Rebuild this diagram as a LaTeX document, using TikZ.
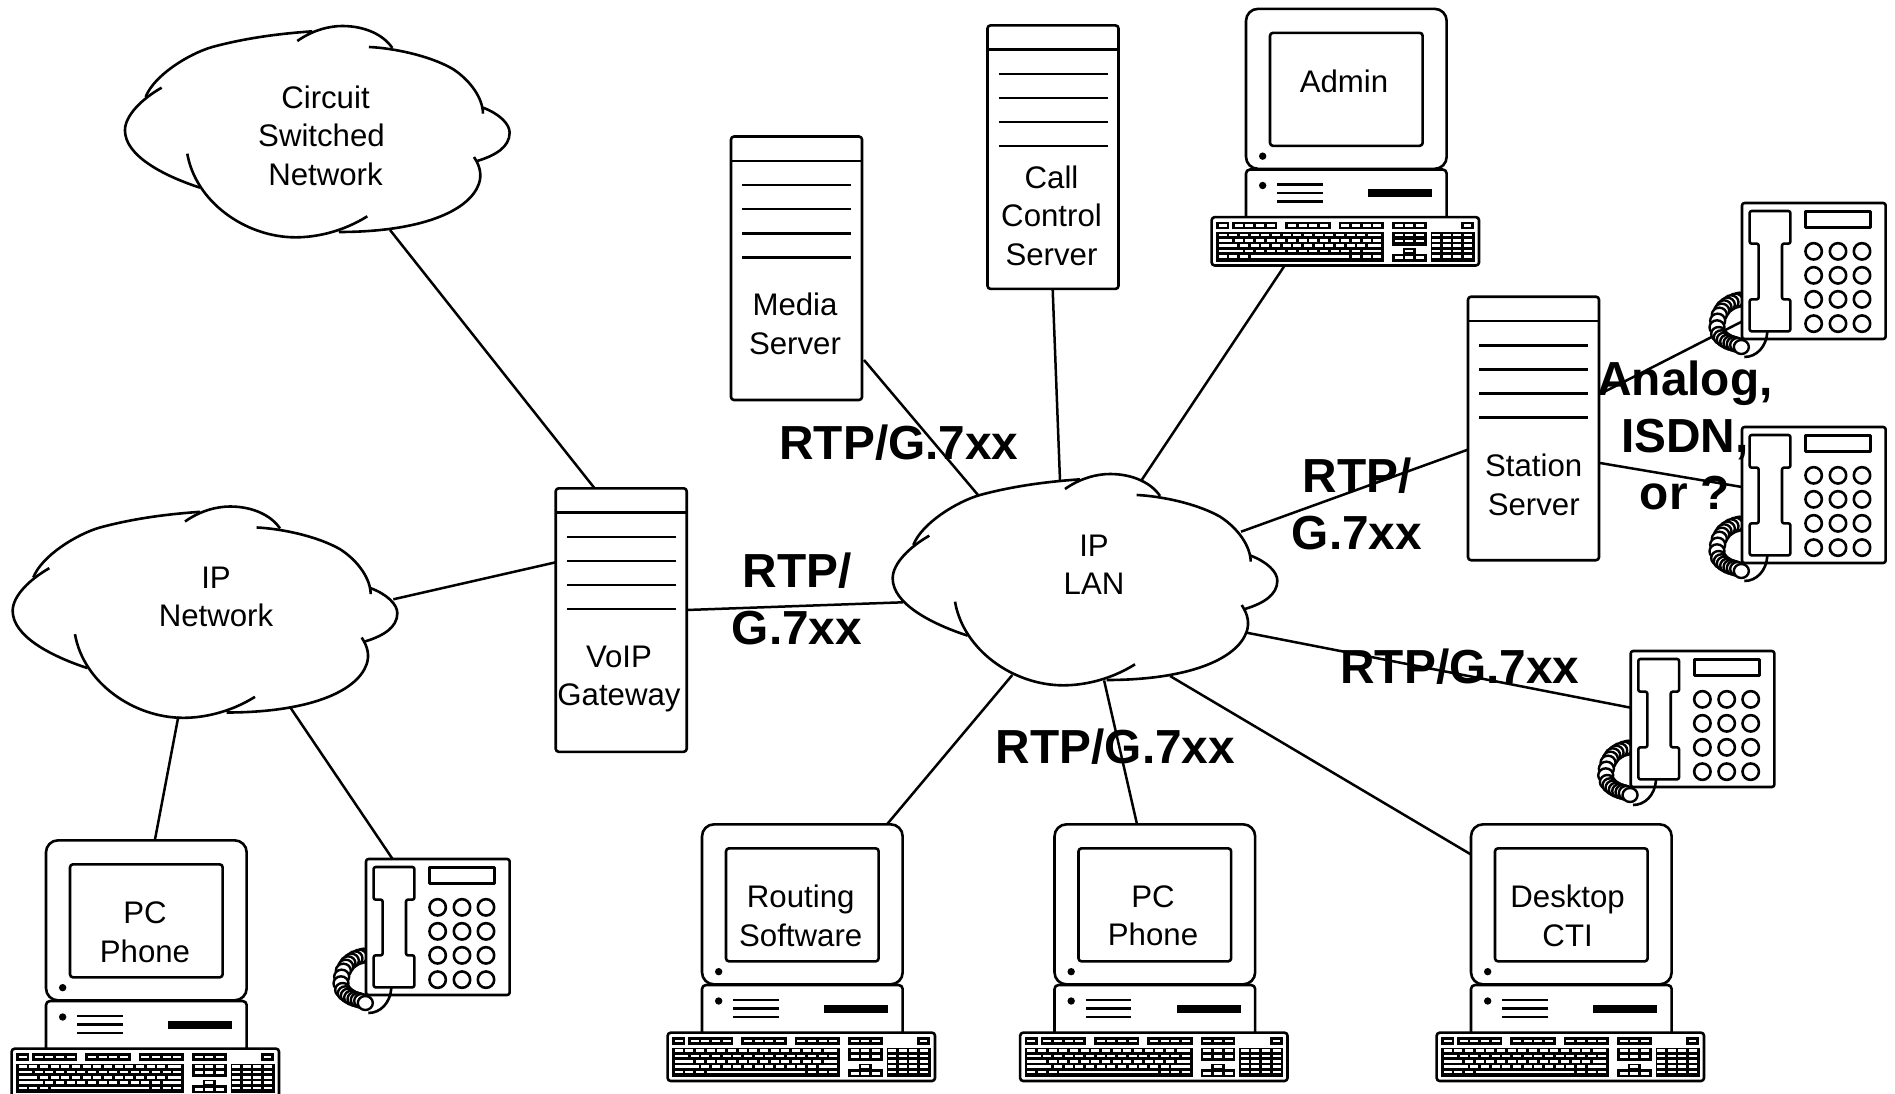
\documentclass[tikz,border=0pt]{standalone}
\usepackage{fontspec}
\setmainfont{Liberation Sans}
\tikzset{
  every picture/.style={x=1pt,y=-1pt},
  shape line/.style={line width=2.6pt,draw=black,fill=white,line join=round},
  bare line/.style={line width=2.6pt,draw=black,line join=round},
  link/.style={line width=2.5pt,draw=black},
  devlabel/.style={font=\fontsize{31.2}{38.5}\selectfont,align=center,inner sep=0pt,text=black},
  protolabel/.style={font=\bfseries\fontsize{47.8}{57}\selectfont,align=center,inner sep=0pt,text=black},
  zoomed/.style={x=0.33333pt,y=-0.33333pt}
}
% cloud: origin is the top-left of the 3x grid
\newcommand{\mycloud}[2]{%
\begin{scope}[shift={(#1,#2)},zoomed]
  \fill[white] (100,255)--(300,103)--(600,58)--(690,42)--(840,108)--(1020,170)--(1112,290)--(1192,362)--(1095,447)--(1100,515)--(870,645)--(680,660)--(550,676)--(263,527)--(38,355)--cycle;
  \draw[bare line,line cap=butt] (100,255) .. controls (125,190) and (230,125) .. (300,105) .. controls (400,78) and (500,65) .. (600,58);
  \draw[bare line] (555,87) .. controls (600,55) and (650,42) .. (690,42) .. controls (760,42) and (815,70) .. (840,108);
  \draw[bare line] (770,105) .. controls (840,108) and (950,130) .. (1020,170) .. controls (1075,205) and (1112,260) .. (1112,305);
  \draw[bare line] (1112,287) .. controls (1160,305) and (1192,335) .. (1192,362) .. controls (1192,405) and (1150,430) .. (1095,447);
  \draw[bare line] (1085,435) .. controls (1105,465) and (1108,490) .. (1100,515) .. controls (1070,600) and (920,660) .. (680,660);
  \draw[bare line] (765,613) .. controls (690,660) and (610,676) .. (550,676) .. controls (400,676) and (250,570) .. (225,425);
  \draw[bare line] (263,527) .. controls (150,490) and (38,430) .. (38,355) .. controls (38,310) and (90,260) .. (148,227);
\end{scope}}
% server: origin is the top-left corner
\newcommand{\myserver}[2]{%
\begin{scope}[shift={(#1,#2)}]
  \draw[shape line,rounded corners=3pt] (0,0) rectangle (131,263.5);
  \draw[bare line] (0,24.4) -- (131,24.4);
  \foreach \yy in {48.7,72.7,96.7,120.7} \draw[bare line] (11,\yy) -- (120,\yy);
\end{scope}}
% keyboard key helpers (3x grid)
\newcommand{\kslot}[3]{\fill[white] (#1,#3-4) rectangle (#2,#3+4);}
% computer: origin = 3x grid corner
\newcommand{\mycomputer}[2]{%
\begin{scope}[shift={(#1,#2)},zoomed]
  \draw[shape line,rounded corners=4pt] (138,680) -- (138,507) -- (740,507) -- (740,680);
  \draw[shape line,rounded corners=12pt] (138,25) rectangle (740,505);
  \draw[bare line,rounded corners=3pt] (210,97) rectangle (668,436);
  \fill (188,467) circle[radius=3.7pt];
  \fill (188,555) circle[radius=3.7pt];
  \foreach \yy in {552,578,603} \draw[bare line] (232,\yy) -- (368,\yy);
  \fill (504,567) rectangle (696,591);
  \draw[shape line,rounded corners=3pt] (35,650) rectangle (837,795);
  % black groups
  \fill (48,664) rectangle (87,686);
  \foreach \aa/\bb in {96/232,256/392,416/552,576/680,784/822} \fill (\aa,664) rectangle (\bb,686);
  \fill (48,696) rectangle (552,784);
  \fill (576,696) rectangle (680,736);
  \fill (608,744) rectangle (648,760);
  \fill (576,760) rectangle (680,784);
  \fill (692,696) rectangle (824,784);
  % function row
  \kslot{56}{80}{675}
  \foreach \aa in {104,136,168,200,264,296,328,360,424,456,488,520,584,616,648} {\pgfmathsetmacro\bb{\aa+24}\kslot{\aa}{\bb}{675}}
  \kslot{792}{814}{675}
  % main rows
  \foreach \aa in {56,88,...,472} {\pgfmathsetmacro\bb{\aa+24}\kslot{\aa}{\bb}{704}}
  \kslot{504}{544}{704}
  \kslot{56}{96}{720}
  \foreach \aa in {104,136,...,488} {\pgfmathsetmacro\bb{\aa+24}\kslot{\aa}{\bb}{720}}
  \kslot{520}{544}{720}
  \kslot{56}{112}{736}
  \foreach \aa in {120,152,...,472} {\pgfmathsetmacro\bb{\aa+24}\kslot{\aa}{\bb}{736}}
  \kslot{504}{544}{736}
  \kslot{56}{128}{752}
  \foreach \aa in {136,168,...,456} {\pgfmathsetmacro\bb{\aa+24}\kslot{\aa}{\bb}{752}}
  \kslot{488}{544}{752}
  \foreach \aa in {56,88,120,456,488,520} {\pgfmathsetmacro\bb{\aa+24}\kslot{\aa}{\bb}{768}}
  \kslot{152}{448}{768}
  % navigation block
  \foreach \aa in {584,616,648} {\pgfmathsetmacro\bb{\aa+24}\kslot{\aa}{\bb}{704}\kslot{\aa}{\bb}{722}\kslot{\aa}{\bb}{772}}
  \kslot{616}{640}{752}
  % numeric block
  \foreach \aa in {696,728,760,792} \foreach \cc in {704,720,736,752,768} {\pgfmathsetmacro\bb{\aa+24}\kslot{\aa}{\bb}{\cc}}
\end{scope}}
% phone: origin = top-left corner of its body
\newcommand{\myphone}[2]{%
\begin{scope}[shift={(#1-30.67,#2-11)},zoomed]
  \foreach \xx/\yy in {84/323,72/326,59/331,48/338,38/346,31/356,24/368,19/386,17/406,22/426,30/436,39/443,49/449,59/453,69/456,79/459,90/465}
    \draw[line width=2.4pt,fill=white] (\xx,\yy) ellipse[x radius=7.5pt,y radius=7pt];
  \draw[shape line,rounded corners=2.5pt] (92,33) rectangle (523,441);
  \draw[bare line] (168,420) .. controls (165,465) and (135,495) .. (99,495);
  \draw[bare line,rounded corners=2pt] (115,57) -- (237,57) -- (237,155) -- (212,155) -- (212,322) -- (237,322) -- (237,418) -- (115,418) -- (115,322) -- (142,322) -- (142,155) -- (115,155) -- cycle;
  \draw[bare line] (283,59) rectangle (478,107);
  \foreach \xx in {307,380,452} \foreach \yy in {178,250,322,395} \draw[bare line] (\xx,\yy) circle[radius=8.2pt];
\end{scope}}
\begin{document}
\begin{tikzpicture}
\clip (0,0) rectangle (1895,1094);
\fill[white] (0,0) rectangle (1895,1094);
% connector ends
\coordinate (circuitOut) at (390,230);
\coordinate (gwTop) at (594.6,488.3);
\coordinate (ipOutE) at (393.3,599.3);
\coordinate (gwW) at (555.7,562.3);
\coordinate (gwE) at (686.7,610);
\coordinate (lanW) at (903,602.3);
\coordinate (mediaS) at (864,360);
\coordinate (lanNW) at (978,495);
\coordinate (callS) at (1052.7,290);
\coordinate (lanN) at (1060,480.7);
\coordinate (adminS) at (1285,265);
\coordinate (lanNE) at (1141.7,480);
\coordinate (stationW) at (1468,449.6);
\coordinate (lanE) at (1241,531.7);
\coordinate (stationNE) at (1600,394);
\coordinate (phoneAW) at (1742,321.5);
\coordinate (stationSE) at (1600,463);
\coordinate (phoneBW) at (1742,487);
\coordinate (lanSE) at (1246.7,632.7);
\coordinate (phoneCW) at (1630.7,707.7);
\coordinate (lanSSE) at (1170,676);
\coordinate (ctiN) at (1471,854.5);
\coordinate (lanS) at (1104,680);
\coordinate (pcbN) at (1137.3,825.5);
\coordinate (lanSW) at (1012.3,675);
\coordinate (routingN) at (886,825.5);
\coordinate (ipS) at (178.3,716.7);
\coordinate (pcaN) at (154.7,841);
\coordinate (ipSE) at (290,707);
\coordinate (phoneDN) at (392.8,859.3);
% connectors
\draw[link] (circuitOut) -- (gwTop);
\draw[link] (ipOutE) -- (gwW);
\draw[link] (gwE) -- (lanW);
\draw[link] (mediaS) -- (lanNW);
\draw[link] (callS) -- (lanN);
\draw[link] (adminS) -- (lanNE);
\draw[link] (stationW) -- (lanE);
\draw[link] (stationNE) -- (phoneAW);
\draw[link] (stationSE) -- (phoneBW);
\draw[link] (lanSE) -- (phoneCW);
\draw[link] (lanSSE) -- (ctiN);
\draw[link] (lanS) -- (pcbN);
\draw[link] (lanSW) -- (routingN);
\draw[link] (ipS) -- (pcaN);
\draw[link] (ipSE) -- (phoneDN);
% devices
\mycloud{112.3}{12}
\mycloud{0}{492.5}
\mycloud{880}{460}
\myserver{555.7}{488.3}
\myserver{731}{136.5}
\myserver{987.5}{25.4}
\myserver{1468}{296.7}
\mycomputer{1200}{0.5}
\mycomputer{0}{832}
\mycomputer{656}{816}
\mycomputer{1008.5}{816}
\mycomputer{1425}{816}
\myphone{1742}{203}
\myphone{1742}{427}
\myphone{1630.7}{651}
\myphone{366}{859}
% device labels
\node[devlabel] (circuitLabel) at (325.5,135.5) {Circuit\\Switched\kern8pt\\Network};
\node[devlabel] (ipLabel) at (216,597) {IP\\Network};
\node[devlabel] (lanLabel) at (1094,565) {IP\\LAN};
\node[devlabel] (adminLabel) at (1344,81) {Admin};
\node[devlabel] (mediaLabel) at (795,324) {Media\\Server};
\node[devlabel] (callLabel) at (1051.5,215.5) {Call\\Control\\Server};
\node[devlabel] (gatewayLabel) at (619,679) {VoIP\\Gateway};
\node[devlabel] (stationLabel) at (1533.7,484.6) {Station\\Server};
\node[devlabel] (pcaLabel) at (145,932) {PC\\Phone};
\node[devlabel] (routingLabel) at (800.7,916) {Routing\\Software};
\node[devlabel] (pcbLabel) at (1153,916) {PC\\Phone};
\node[devlabel] (ctiLabel) at (1567.6,916) {Desktop\\CTI};
% protocol labels
\node[protolabel] (rtpA) at (899,443) {RTP/G.7xx};
\node[protolabel] (rtpB) at (797,599) {RTP/\\G.7xx};
\node[protolabel] (rtpC) at (1357,503.5) {RTP/\\G.7xx};
\node[protolabel] (analogLabel) at (1685,435.5) {Analog,\\ISDN,\\or ?};
\node[protolabel] (rtpD) at (1460,666.5) {RTP/G.7xx};
\node[protolabel] (rtpE) at (1115.5,746.5) {RTP/G.7xx};
\end{tikzpicture}
\end{document}
